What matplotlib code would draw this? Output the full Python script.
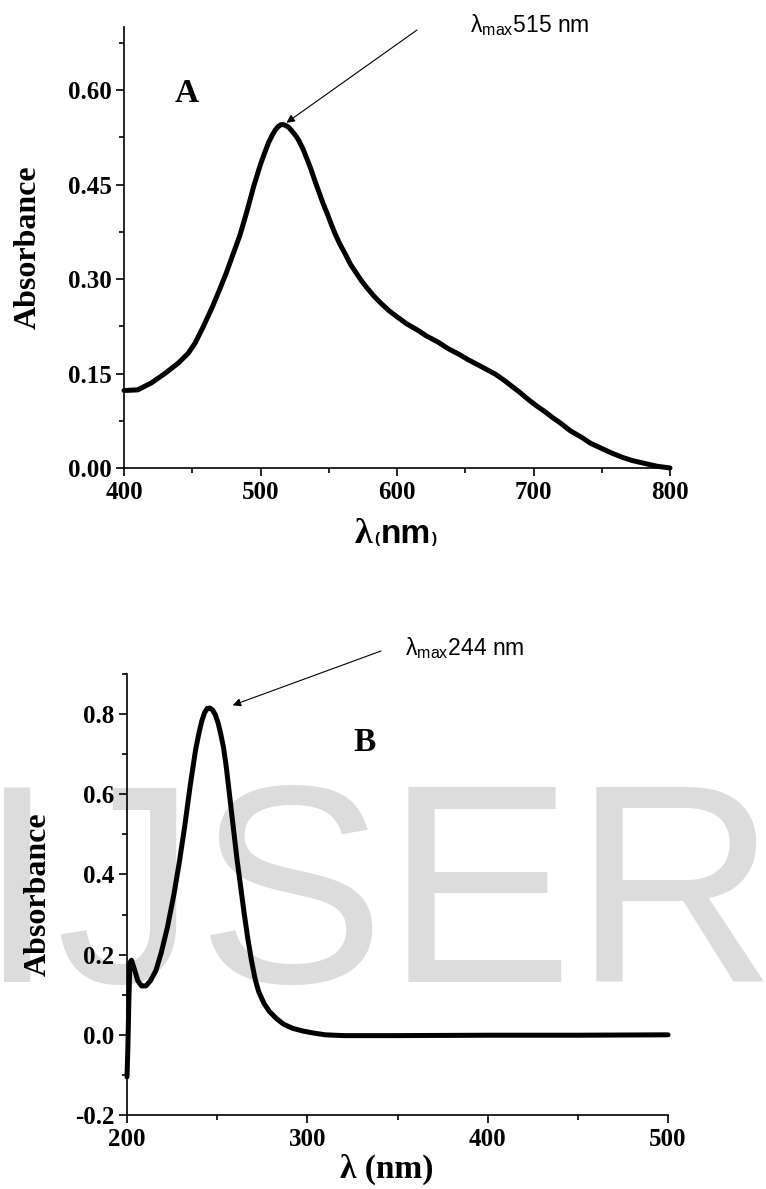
import matplotlib
matplotlib.use('Agg')
import matplotlib.pyplot as plt
from matplotlib.ticker import MultipleLocator
from matplotlib.offsetbox import TextArea, HPacker, AnnotationBbox

# ---------------- data ----------------
wl_a = [400, 410, 420, 430, 440, 447, 452, 458, 465, 470, 475, 480, 485, 490,
        495, 500, 503, 506, 509, 511, 513, 515, 517, 519, 521, 523, 526, 528,
        531, 534, 537, 540, 543, 546, 549, 552, 555, 558, 562, 566, 570, 574,
        578, 583, 588, 594, 600, 607, 615, 622, 630, 637, 645, 652, 660, 666,
        672, 678, 684, 690, 696, 702, 708, 714, 720, 727, 735, 742, 750, 757,
        765, 772, 780, 790, 800]
abs_a = [0.123, 0.124, 0.135, 0.150, 0.167, 0.182, 0.198, 0.224, 0.257, 0.283,
         0.310, 0.340, 0.370, 0.407, 0.447, 0.482, 0.500, 0.517, 0.530, 0.537,
         0.542, 0.545, 0.545, 0.543, 0.540, 0.535, 0.527, 0.520, 0.507, 0.491,
         0.474, 0.455, 0.437, 0.419, 0.403, 0.386, 0.370, 0.356, 0.340, 0.323,
         0.310, 0.297, 0.286, 0.273, 0.262, 0.250, 0.240, 0.229, 0.219, 0.209,
         0.200, 0.190, 0.181, 0.172, 0.163, 0.156, 0.149, 0.140, 0.130, 0.120,
         0.109, 0.099, 0.090, 0.080, 0.071, 0.059, 0.049, 0.039, 0.031, 0.024,
         0.017, 0.012, 0.008, 0.003, 0.000]

wl_b = [200, 200.5, 201.0, 201.6, 202.5, 204, 206, 208, 210.5, 213, 216, 219,
        222.5, 226, 229, 232, 235, 238, 240, 241.5, 243, 244.5, 246, 247.5, 249,
        250.5, 252, 253.5, 255, 257, 259, 261, 263, 265, 267, 269, 271, 273,
        276, 279, 283, 287, 292, 298, 304, 310, 320, 350, 400, 450, 500]
abs_b = [-0.105, -0.03, 0.08, 0.18, 0.186, 0.165, 0.135, 0.122, 0.122, 0.135,
         0.160, 0.205, 0.270, 0.350, 0.430, 0.520, 0.620, 0.710, 0.755, 0.783,
         0.803, 0.814, 0.815, 0.810, 0.798, 0.778, 0.750, 0.717, 0.670, 0.593,
         0.515, 0.438, 0.370, 0.302, 0.240, 0.186, 0.140, 0.108, 0.078, 0.058,
         0.040, 0.026, 0.016, 0.009, 0.004, 0.000, -0.002, -0.002, -0.001,
         -0.001, 0.000]

xticks_a = [400, 500, 600, 700, 800]
yticks_a = [0.00, 0.15, 0.30, 0.45, 0.60]
xticks_b = [200, 300, 400, 500]
yticks_b = [-0.2, 0.0, 0.2, 0.4, 0.6, 0.8]

lambda_max_a = 515
lambda_max_b = 244

# ---------------- style ----------------
plt.rcParams['font.family'] = ['Liberation Serif', 'DejaVu Serif']
plt.rcParams['font.weight'] = 'bold'
plt.rcParams['axes.unicode_minus'] = False
plt.rcParams['mathtext.fontset'] = 'custom'
plt.rcParams['mathtext.rm'] = 'Liberation Sans:normal'
plt.rcParams['mathtext.it'] = 'Liberation Sans:normal'
plt.rcParams['mathtext.bf'] = 'Liberation Sans:bold'

W, H = 766, 1189
fig = plt.figure(figsize=(W / 100, H / 100), dpi=100)

# watermark
fig.text(-22 / W, (H - 982) / H, 'IJSER', fontsize=203, family='Liberation Sans',
         fontweight='normal', color='#dcdcdc', ha='left', va='baseline', zorder=-5)

axA = fig.add_axes([124 / W, 1 - 468 / H, 546 / W, 441 / H])
axB = fig.add_axes([127 / W, 74 / H, 541 / W, 441 / H])


def style(ax):
    ax.set_facecolor('none')
    for s in ['top', 'right']:
        ax.spines[s].set_visible(False)
    for s in ['left', 'bottom']:
        ax.spines[s].set_linewidth(1.2)
    ax.tick_params(which='major', direction='out', length=6, width=1.2,
                   labelsize=18, pad=3)
    ax.tick_params(which='minor', direction='out', length=3.5, width=1.2)
    for lab in ax.get_xticklabels() + ax.get_yticklabels():
        lab.set_fontweight('bold')


# ---- panel A ----
axA.plot(wl_a, abs_a, color='black', lw=3.6, solid_joinstyle='round',
         solid_capstyle='round', clip_on=False)
axA.set_xlim(400, 800)
axA.set_ylim(0, 0.70)
axA.set_xticks(xticks_a, labels=[f'{v:d}' for v in xticks_a])
axA.set_yticks(yticks_a, labels=[f'{v:.2f}' for v in yticks_a])
axA.xaxis.set_minor_locator(MultipleLocator(50))
axA.yaxis.set_minor_locator(MultipleLocator(0.075))
style(axA)
axA.set_ylabel('Absorbance', fontsize=23, fontweight='bold', labelpad=18)
axA.text(446, 0.595, 'A', fontsize=24, fontweight='bold', ha='center', va='center')

# composite x label for panel A
parts = [
    TextArea('λ', textprops=dict(fontsize=26, fontweight='bold', family='Liberation Serif')),
    TextArea('(', textprops=dict(fontsize=11, fontweight='bold', family='Liberation Sans')),
    TextArea('nm', textprops=dict(fontsize=24, fontweight='bold', family='Liberation Sans')),
    TextArea(')', textprops=dict(fontsize=11, fontweight='bold', family='Liberation Sans')),
]
pack = HPacker(children=parts, align='baseline', pad=0, sep=1)
ab = AnnotationBbox(pack, (0.498, -0.113), xycoords='axes fraction',
                    box_alignment=(0.5, 1), frameon=False, pad=0)
axA.add_artist(ab)

axA.annotate('', xy=(519, 0.548), xycoords='data',
             xytext=(417, H - 30), textcoords='figure pixels',
             arrowprops=dict(arrowstyle='-|>', color='black', lw=0.8,
                             mutation_scale=12, shrinkA=0, shrinkB=0),
             annotation_clip=False)
fig.text(470 / W, (H - 32) / H, 'λ$_{\\mathrm{max}}$' + f'{lambda_max_a} nm',
         fontsize=16.5, family='Liberation Sans', fontweight='normal',
         ha='left', va='baseline')

# ---- panel B ----
axB.plot(wl_b, abs_b, color='black', lw=3.6, solid_joinstyle='round',
         solid_capstyle='round', clip_on=False)
axB.set_xlim(200, 500)
axB.set_ylim(-0.2, 0.9)
axB.set_xticks(xticks_b, labels=[f'{v:d}' for v in xticks_b])
axB.set_yticks(yticks_b, labels=[f'{v:.1f}' for v in yticks_b])
axB.xaxis.set_minor_locator(MultipleLocator(50))
axB.yaxis.set_minor_locator(MultipleLocator(0.1))
style(axB)
axB.set_ylabel('Absorbance', fontsize=23, fontweight='bold', labelpad=16)
axB.set_xlabel('λ (nm)', fontsize=24, fontweight='bold')
axB.xaxis.set_label_coords((387 - 127) / 541, -0.088)
axB.text(332, 0.728, 'B', fontsize=24, fontweight='bold', ha='center', va='center')

axB.annotate('', xy=(258.6, 0.822), xycoords='data',
             xytext=(381, H - 651), textcoords='figure pixels',
             arrowprops=dict(arrowstyle='-|>', color='black', lw=0.8,
                             mutation_scale=12, shrinkA=0, shrinkB=0),
             annotation_clip=False)
fig.text(405 / W, (H - 655) / H, 'λ$_{\\mathrm{max}}$' + f'{lambda_max_b} nm',
         fontsize=16.5, family='Liberation Sans', fontweight='normal',
         ha='left', va='baseline')

fig.savefig('out.png', dpi=100)
